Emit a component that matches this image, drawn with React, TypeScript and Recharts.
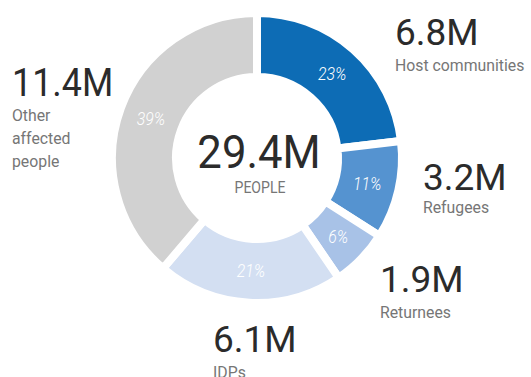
import React from "react";
import { PieChart, Pie, Cell } from "recharts";

const categories = ["Host communities", "Refugees", "Returnees", "IDPs", "Other affected people"];
const values = [6.8, 3.2, 1.9, 6.1, 11.4];
const valueLabels = ["6.8M", "3.2M", "1.9M", "6.1M", "11.4M"];
const nameLines = [["Host communities"], ["Refugees"], ["Returnees"], ["IDPs"], ["Other", "affected", "people"]];
const totalLabel = "29.4M";
const totalCaption = "PEOPLE";

const colors = ["#0d6cb5", "#5593d0", "#a8c2e7", "#d3dff2", "#d1d1d1"];

// layout of the outside labels (x, number baseline, name baseline, number size, number x-scale)
const labelLayout = [
  { x: 395, ny: 45, ty: 71, fs: 37, sx: 1 },
  { x: 423, ny: 190, ty: 213, fs: 37, sx: 1 },
  { x: 380, ny: 292, ty: 318, fs: 37, sx: 1 },
  { x: 213, ny: 352, ty: 378, fs: 37, sx: 1 },
  { x: 12, ny: 96, ty: 121, fs: 39, sx: 0.92 },
];

const data = categories.map((c, i) => ({ name: c, value: values[i] }));

const FONT = "Roboto, 'Noto Sans', sans-serif";
const RAD = Math.PI / 180;

const T = (p: any) => {
  const { x, y, sx = 1, children, ...rest } = p;
  return (
    <text x={0} y={0} transform={`translate(${x},${y}) scale(${sx},1)`} fontFamily={FONT} {...rest}>
      {children}
    </text>
  );
};

const renderLabel = (props: any) => {
  const { cx, cy, midAngle, innerRadius, outerRadius, percent, index } = props;
  const r = (innerRadius + outerRadius) / 2;
  const px = cx + r * Math.cos(-midAngle * RAD);
  const py = cy + r * Math.sin(-midAngle * RAD);
  const L = labelLayout[index];
  return (
    <g key={`lbl-${index}`}>
      <T
        x={px}
        y={py}
        sx={0.88}
        fill="#ffffff"
        textAnchor="middle"
        dominantBaseline="central"
        fontStyle="italic"
        fontWeight={300}
        fontSize={18}
      >
        {`${Math.round(percent * 100)}%`}
      </T>
      <T x={L.x} y={L.ny} sx={L.sx} fill="#2b2b2b" fontSize={L.fs} fontWeight={400}>
        {valueLabels[index]}
      </T>
      {nameLines[index].map((ln, j) => (
        <T key={j} x={L.x} y={L.ty + j * 23} sx={0.93} fill="#767676" fontSize={17} fontWeight={400}>
          {ln}
        </T>
      ))}
      {index === 0 && (
        <g>
          <T x={cx + 2} y={168} sx={0.95} textAnchor="middle" fill="#2b2b2b" fontSize={46}>
            {totalLabel}
          </T>
          <T x={cx + 3} y={193} sx={0.88} textAnchor="middle" fill="#767676" fontSize={16}>
            {totalCaption}
          </T>
        </g>
      )}
    </g>
  );
};

export default function App() {
  return (
    <div style={{ position: "absolute", left: 0, top: 0, width: 531, height: 377, background: "#fff" }}>
      <PieChart width={531} height={377} margin={{ top: 0, right: 0, bottom: 0, left: 0 }}>
        <Pie
          data={data}
          dataKey="value"
          nameKey="name"
          cx={257}
          cy={158}
          innerRadius={81}
          outerRadius={145}
          startAngle={90}
          endAngle={-270}
          stroke="#ffffff"
          strokeWidth={8}
          label={renderLabel}
          labelLine={false}
          isAnimationActive={false}
        >
          {data.map((d, i) => (
            <Cell key={d.name} fill={colors[i]} />
          ))}
        </Pie>
      </PieChart>
    </div>
  );
}
